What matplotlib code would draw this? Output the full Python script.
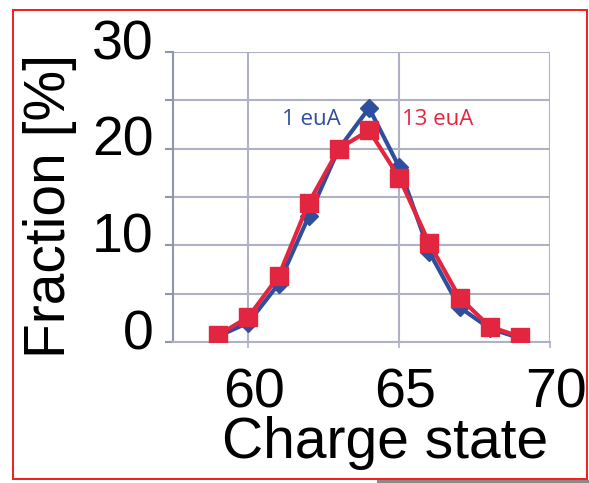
import matplotlib
matplotlib.use("Agg")
from matplotlib import pyplot as plt
from matplotlib.patches import Rectangle
from matplotlib.transforms import ScaledTranslation

charge = [59, 60, 61, 62, 63, 64, 65, 66, 67, 68, 69]
frac_1eua = [0.6, 2.0, 6.0, 13.0, 20.0, 24.2, 18.1, 9.3, 3.6, 1.4, 0.4]
frac_13eua = [0.7, 2.6, 6.8, 14.4, 20.0, 21.9, 17.0, 10.2, 4.6, 1.6, 0.55]
x_ticks = [60, 65, 70]
y_ticks = [0, 5, 10, 15, 20, 25, 30]
y_tick_labels = ["0", "", "10", "", "20", "", "30"]

plt.rcParams['font.family'] = ['Liberation Sans', 'DejaVu Sans']

fig = plt.figure(figsize=(5.89, 4.83), dpi=100)
ax = fig.add_axes([173 / 589, 141 / 483, 377 / 589, 290 / 483])

blue = '#2f4f9e'
red = '#e3263f'
grid_c = '#aeb2c4'
ax.plot(charge, frac_1eua, '-D', color=blue, lw=3, ms=9, zorder=3)
ax.plot(charge, frac_13eua, '-s', color=red, lw=3, ms=13, zorder=4)

ax.set_xlim(57.5, 70)
ax.set_ylim(0, 30)
ax.set_xticks(x_ticks)
ax.set_yticks(y_ticks)
ax.set_yticklabels(y_tick_labels)
ax.grid(True, color=grid_c, lw=1.5)
ax.set_axisbelow(True)
for side in ['top', 'right']:
    ax.spines[side].set_visible(False)
ax.spines['left'].set_color('#8f96ad')
ax.spines['left'].set_linewidth(1.5)
ax.spines['bottom'].set_color(grid_c)
ax.spines['bottom'].set_linewidth(1.5)
ax.tick_params(axis='y', length=6, width=1.5, color='#8f96ad', labelsize=40, pad=8)
ax.tick_params(axis='x', length=4, width=1.2, color=grid_c, labelsize=40, pad=14)

# tick labels in the source sit a bit off the grid lines
for lab in ax.get_yticklabels():
    lab.set_transform(lab.get_transform() +
                      ScaledTranslation(0, 0.13, fig.dpi_scale_trans))
for lab in ax.get_xticklabels():
    lab.set_transform(lab.get_transform() +
                      ScaledTranslation(0.06, 0, fig.dpi_scale_trans))

ax.text(63.05, 23.0, '1 euA', color=blue, fontsize=16,
        family=['Open Sans', 'DejaVu Sans'], ha='right', va='center')
ax.text(65.1, 23.0, '13 euA', color=red, fontsize=16,
        family=['Open Sans', 'DejaVu Sans'], ha='left', va='center')

fig.text(385 / 589, 1 - 443 / 483, 'Charge state', fontsize=41,
         ha='center', va='center')
fig.text(50 / 589, 1 - 206 / 483, 'Fraction [%]', fontsize=41,
         rotation=90, ha='center', va='center')

fig.patches.append(Rectangle((13 / 589, 4 / 483), 574 / 589, 469 / 483,
                             transform=fig.transFigure, fill=False,
                             edgecolor='#f51a1a', lw=1.4))
fig.patches.append(Rectangle((377 / 589, 0), 212 / 589, 3 / 483,
                             transform=fig.transFigure, facecolor='#8a8a8a',
                             edgecolor='none'))

plt.savefig('out.png', dpi=100)
